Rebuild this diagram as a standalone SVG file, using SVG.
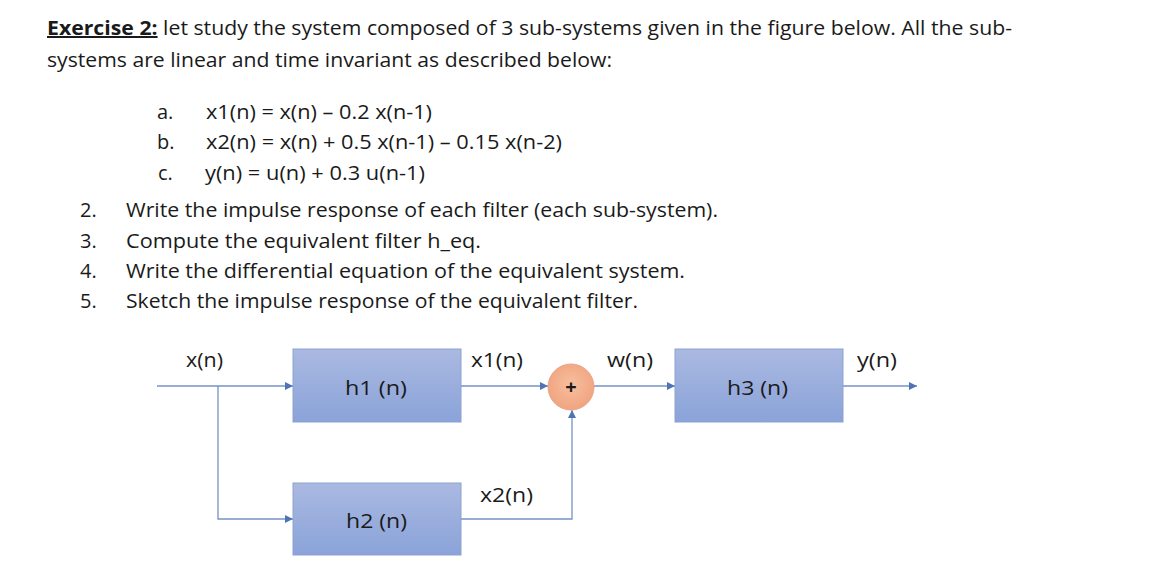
<svg xmlns="http://www.w3.org/2000/svg" width="1170" height="562" viewBox="0 0 1170 562">
<style>
.t{font-family:"Open Sans","Noto Sans","Liberation Sans",sans-serif;font-size:20px;fill:#1a1a1a}
.lbl{font-family:"Open Sans","Noto Sans","Liberation Sans",sans-serif;font-size:20px;fill:#1a1a1a}
.c{fill:none;stroke:#7592c6;stroke-width:1.3}
.box{fill:url(#gb);stroke:#8da2cf;stroke-width:1}
</style>
<defs>
<linearGradient id="gb" x1="0" y1="0" x2="0" y2="1">
<stop offset="0" stop-color="#aab9e1"/>
<stop offset="1" stop-color="#8aa3d9"/>
</linearGradient>
<radialGradient id="gc" cx="0.5" cy="0.45" r="0.6">
<stop offset="0" stop-color="#f7bf9e"/>
<stop offset="1" stop-color="#f0a17d"/>
</radialGradient>
<marker id="ah" viewBox="0 0 10 10" refX="10" refY="5" markerWidth="8" markerHeight="8" markerUnits="userSpaceOnUse" orient="auto">
<path d="M0,0 L10,5 L0,10 z" fill="#4f74b6"/>
</marker>
</defs>
<rect width="1170" height="562" fill="#ffffff"/>

<g id="text">
<text class="t" x="47" y="35" textLength="965" lengthAdjust="spacingAndGlyphs"><tspan font-weight="bold" text-decoration="underline">Exercise 2:</tspan> let study the system composed of 3 sub-systems given in the figure below. All the sub-</text>
<text class="t" x="47" y="67" textLength="565" lengthAdjust="spacingAndGlyphs">systems are linear and time invariant as described below:</text>
<text class="t" x="157" y="119">a.</text>
<text class="t" x="206" y="119" textLength="226" lengthAdjust="spacingAndGlyphs">x1(n) = x(n) – 0.2 x(n-1)</text>
<text class="t" x="157" y="149">b.</text>
<text class="t" x="206" y="149" textLength="356" lengthAdjust="spacingAndGlyphs">x2(n) = x(n) + 0.5 x(n-1) – 0.15 x(n-2)</text>
<text class="t" x="158" y="180">c.</text>
<text class="t" x="205" y="180" textLength="220" lengthAdjust="spacingAndGlyphs">y(n) = u(n) + 0.3 u(n-1)</text>
<text class="t" x="80" y="217">2.</text>
<text class="t" x="126" y="217" textLength="592" lengthAdjust="spacingAndGlyphs">Write the impulse response of each filter (each sub-system).</text>
<text class="t" x="80" y="248">3.</text>
<text class="t" x="126" y="248" textLength="355" lengthAdjust="spacingAndGlyphs">Compute the equivalent filter h_eq.</text>
<text class="t" x="80" y="278">4.</text>
<text class="t" x="126" y="278" textLength="559" lengthAdjust="spacingAndGlyphs">Write the differential equation of the equivalent system.</text>
<text class="t" x="80" y="308">5.</text>
<text class="t" x="126" y="308" textLength="512" lengthAdjust="spacingAndGlyphs">Sketch the impulse response of the equivalent filter.</text>
</g>

<g id="connectors">
<path class="c" d="M157,386 H293" marker-end="url(#ah)"/>
<path class="c" d="M218,386 V519 H293" marker-end="url(#ah)"/>
<path class="c" d="M461,386 H548" marker-end="url(#ah)"/>
<path class="c" d="M461,519 H572 V410" marker-end="url(#ah)"/>
<path class="c" d="M594,386 H675" marker-end="url(#ah)"/>
<path class="c" d="M843,386 H917" marker-end="url(#ah)"/>
<text class="lbl" x="186" y="367" textLength="37" lengthAdjust="spacingAndGlyphs">x(n)</text>
<text class="lbl" x="471" y="367" textLength="52" lengthAdjust="spacingAndGlyphs">x1(n)</text>
<text class="lbl" x="480" y="502" textLength="53" lengthAdjust="spacingAndGlyphs">x2(n)</text>
<text class="lbl" x="607" y="367" textLength="46" lengthAdjust="spacingAndGlyphs">w(n)</text>
<text class="lbl" x="857" y="367" textLength="40" lengthAdjust="spacingAndGlyphs">y(n)</text>
</g>

<g id="h1">
<rect class="box" x="293" y="349" width="168" height="73"/>
<text class="lbl" x="345" y="395" textLength="62" lengthAdjust="spacingAndGlyphs">h1 (n)</text>
</g>
<g id="h2">
<rect class="box" x="293" y="483" width="168" height="72"/>
<text class="lbl" x="346" y="528" textLength="61" lengthAdjust="spacingAndGlyphs">h2 (n)</text>
</g>
<g id="h3">
<rect class="box" x="675" y="349" width="168" height="73"/>
<text class="lbl" x="727" y="395" textLength="61" lengthAdjust="spacingAndGlyphs">h3 (n)</text>
</g>
<g id="sum">
<circle cx="571" cy="387" r="23" fill="url(#gc)" stroke="#e9a587" stroke-width="1"/>
<text x="571" y="394" text-anchor="middle" font-family="'Open Sans','Liberation Sans',sans-serif" font-size="20" font-weight="bold" fill="#1a1a1a">+</text>
</g>
</svg>
